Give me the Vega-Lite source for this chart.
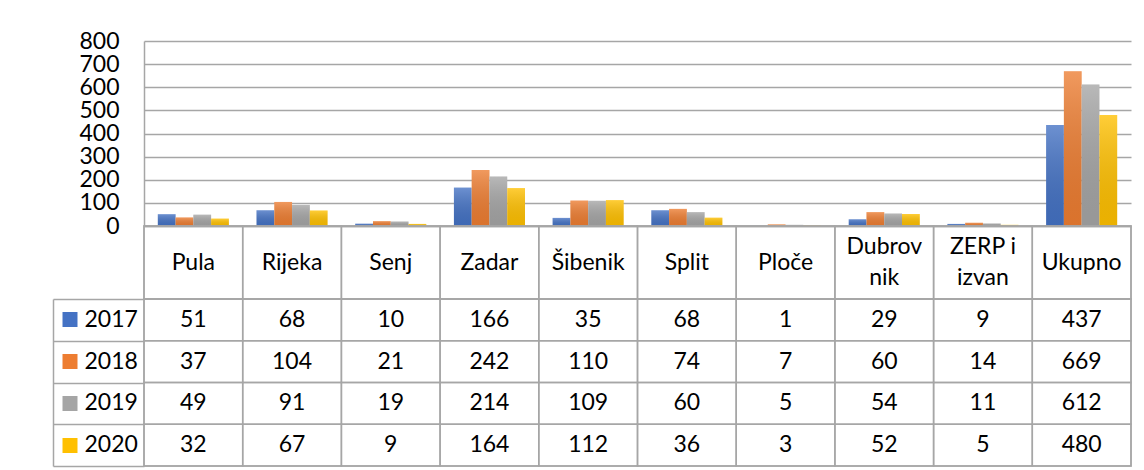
{
  "$schema": "https://vega.github.io/schema/vega-lite/v6.json",
  "padding": {"top": 30, "left": 51, "right": 13, "bottom": 2},
  "background": "white",
  "spacing": 0,
  "bounds": "flush",
  "config": {"font": "Lato", "view": {"stroke": null}},
  "datasets": {
    "vals": [
      {"cat": "Pula", "year": "2017", "value": 51},
      {"cat": "Rijeka", "year": "2017", "value": 68},
      {"cat": "Senj", "year": "2017", "value": 10},
      {"cat": "Zadar", "year": "2017", "value": 166},
      {"cat": "Šibenik", "year": "2017", "value": 35},
      {"cat": "Split", "year": "2017", "value": 68},
      {"cat": "Ploče", "year": "2017", "value": 1},
      {"cat": "Dubrovnik", "year": "2017", "value": 29},
      {"cat": "ZERP i izvan", "year": "2017", "value": 9},
      {"cat": "Ukupno", "year": "2017", "value": 437},
      {"cat": "Pula", "year": "2018", "value": 37},
      {"cat": "Rijeka", "year": "2018", "value": 104},
      {"cat": "Senj", "year": "2018", "value": 21},
      {"cat": "Zadar", "year": "2018", "value": 242},
      {"cat": "Šibenik", "year": "2018", "value": 110},
      {"cat": "Split", "year": "2018", "value": 74},
      {"cat": "Ploče", "year": "2018", "value": 7},
      {"cat": "Dubrovnik", "year": "2018", "value": 60},
      {"cat": "ZERP i izvan", "year": "2018", "value": 14},
      {"cat": "Ukupno", "year": "2018", "value": 669},
      {"cat": "Pula", "year": "2019", "value": 49},
      {"cat": "Rijeka", "year": "2019", "value": 91},
      {"cat": "Senj", "year": "2019", "value": 19},
      {"cat": "Zadar", "year": "2019", "value": 214},
      {"cat": "Šibenik", "year": "2019", "value": 109},
      {"cat": "Split", "year": "2019", "value": 60},
      {"cat": "Ploče", "year": "2019", "value": 5},
      {"cat": "Dubrovnik", "year": "2019", "value": 54},
      {"cat": "ZERP i izvan", "year": "2019", "value": 11},
      {"cat": "Ukupno", "year": "2019", "value": 612},
      {"cat": "Pula", "year": "2020", "value": 32},
      {"cat": "Rijeka", "year": "2020", "value": 67},
      {"cat": "Senj", "year": "2020", "value": 9},
      {"cat": "Zadar", "year": "2020", "value": 164},
      {"cat": "Šibenik", "year": "2020", "value": 112},
      {"cat": "Split", "year": "2020", "value": 36},
      {"cat": "Ploče", "year": "2020", "value": 3},
      {"cat": "Dubrovnik", "year": "2020", "value": 52},
      {"cat": "ZERP i izvan", "year": "2020", "value": 5},
      {"cat": "Ukupno", "year": "2020", "value": 480}
    ],
    "cats": [
      {"cat": "Pula", "label": "Pula"},
      {"cat": "Rijeka", "label": "Rijeka"},
      {"cat": "Senj", "label": "Senj"},
      {"cat": "Zadar", "label": "Zadar"},
      {"cat": "Šibenik", "label": "Šibenik"},
      {"cat": "Split", "label": "Split"},
      {"cat": "Ploče", "label": "Ploče"},
      {"cat": "Dubrovnik", "label": "Dubrov\nnik"},
      {"cat": "ZERP i izvan", "label": "ZERP i\nizvan"},
      {"cat": "Ukupno", "label": "Ukupno"}
    ]
  },
  "vconcat": [
    {
      "width": 987,
      "height": 185,
      "data": {"name": "vals"},
      "encoding": {
        "x": {
          "field": "cat", "type": "nominal",
          "scale": {"domain": ["Pula", "Rijeka", "Senj", "Zadar", "Šibenik", "Split", "Ploče", "Dubrovnik", "ZERP i izvan", "Ukupno"], "paddingInner": 0.28, "paddingOuter": 0.14},
          "axis": {"labels": false, "ticks": false, "title": null, "domainColor": "#a6a6a6", "domainWidth": 1.5}
        },
        "xOffset": {"field": "year", "type": "nominal", "scale": {"domain": ["2017", "2018", "2019", "2020"], "paddingInner": 0, "paddingOuter": 0}},
        "y": {
          "field": "value", "type": "quantitative",
          "scale": {"domain": [0, 800], "nice": false},
          "axis": {"values": [0, 100, 200, 300, 400, 500, 600, 700, 800], "title": null, "ticks": false, "labelPadding": 25, "labelFontSize": 23, "labelColor": "black", "labelFont": "Lato", "domainColor": "#a6a6a6", "domainWidth": 1.5, "gridColor": "#a6a6a6", "gridWidth": 1.5}
        }
      },
      "layer": [
        {
          "mark": {"type": "bar"},
          "encoding": {
            "color": {"field": "year", "type": "nominal", "scale": {"domain": ["2017", "2018", "2019", "2020"], "range": ["#4472C4", "#ED7D31", "#A5A5A5", "#FFC000"]}, "legend": null}
          }
        },
        {
          "mark": {"type": "bar", "fill": {"gradient": "linear", "x1": 0, "y1": 0, "x2": 0, "y2": 1, "stops": [{"offset": 0, "color": "rgba(255,255,255,0.22)"}, {"offset": 1, "color": "rgba(0,0,0,0.08)"}]}},
          "encoding": {}
        }
      ]
    },
    {
      "width": 987,
      "height": 73,
      "data": {"name": "cats"},
      "view": {"stroke": "#a6a6a6", "strokeWidth": 1.5},
      "encoding": {
        "x": {"field": "cat", "type": "nominal", "scale": {"domain": ["Pula", "Rijeka", "Senj", "Zadar", "Šibenik", "Split", "Ploče", "Dubrovnik", "ZERP i izvan", "Ukupno"], "paddingInner": 0, "paddingOuter": 0}, "axis": null}
      },
      "layer": [
        {"mark": {"type": "rect", "filled": false, "stroke": "#a6a6a6", "strokeWidth": 1.5}, "encoding": {}},
        {
          "transform": [{"filter": "indexof(datum.label, '\\n') < 0"}],
          "mark": {"type": "text", "fontSize": 23, "font": "Lato", "color": "black"},
          "encoding": {"text": {"field": "label", "type": "nominal"}}
        },
        {
          "transform": [{"filter": "indexof(datum.label, '\\n') >= 0"}],
          "mark": {"type": "text", "fontSize": 23, "font": "Lato", "lineBreak": "\n", "lineHeight": 31, "dy": -15.5, "color": "black"},
          "encoding": {"text": {"field": "label", "type": "nominal"}}
        }
      ]
    },
    {
      "width": 987,
      "height": 167,
      "data": {"name": "vals"},
      "view": {"stroke": "#a6a6a6", "strokeWidth": 1.5},
      "encoding": {
        "x": {"field": "cat", "type": "nominal", "scale": {"domain": ["Pula", "Rijeka", "Senj", "Zadar", "Šibenik", "Split", "Ploče", "Dubrovnik", "ZERP i izvan", "Ukupno"], "paddingInner": 0, "paddingOuter": 0}, "axis": null}
      },
      "layer": [
        {
          "mark": {"type": "rect", "filled": false, "stroke": "#a6a6a6", "strokeWidth": 1.5},
          "encoding": {
            "y": {"field": "year", "type": "nominal", "scale": {"domain": ["2017", "2018", "2019", "2020"], "paddingInner": 0, "paddingOuter": 0},
              "axis": {"orient": "left", "offset": 91, "tickBand": "extent", "tickSize": -91, "tickColor": "#a6a6a6", "tickWidth": 1.5, "domain": true, "domainColor": "#a6a6a6", "domainWidth": 1.5, "labels": false, "grid": false, "title": null}}
          }
        },
        {
          "mark": {"type": "text", "fontSize": 23, "font": "Lato", "color": "black"},
          "encoding": {
            "text": {"field": "value", "type": "nominal"},
            "y": {"field": "year", "type": "nominal", "scale": {"domain": ["2017", "2018", "2019", "2020"], "paddingInner": 0, "paddingOuter": 0},
              "axis": {"orient": "left", "offset": 67, "tickSize": 15, "tickWidth": 15, "tickCap": "butt",
                "tickColor": {"condition": [{"test": "datum.value === '2017'", "value": "#4472C4"}, {"test": "datum.value === '2018'", "value": "#ED7D31"}, {"test": "datum.value === '2019'", "value": "#A5A5A5"}], "value": "#FFC000"},
                "labelAlign": "left", "labelPadding": -22, "labelFontSize": 23, "labelFont": "Lato", "labelColor": "black", "domain": false, "grid": false, "title": null}}
          }
        }
      ],
      "resolve": {"axis": {"y": "independent"}}
    }
  ]
}
